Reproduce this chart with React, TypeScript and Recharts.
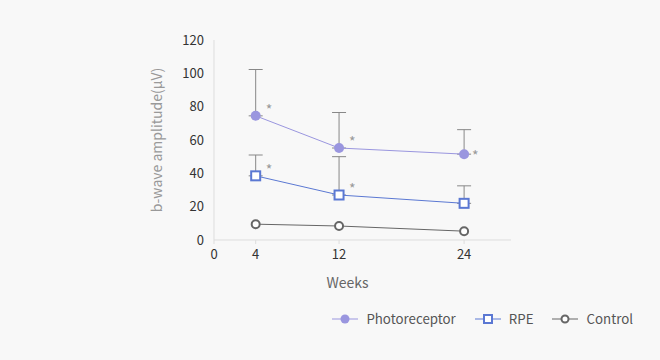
import {
  LineChart,
  Line,
  XAxis,
  YAxis,
  ErrorBar,
  LabelList,
  Legend,
} from "recharts";

const weeks = [4, 12, 24];
const photoreceptor = [74.5, 55.2, 51.5];
const photoreceptorTop = [102.3, 76.5, 66.2];
const photoreceptorSig = ["*", "*", "*"];
const rpe = [38.5, 27, 22];
const rpeTop = [51, 50, 32.5];
const rpeSig = ["*", "*", ""];
const control = [9.5, 8.4, 5.3];
const xTicks = [0, 4, 12, 24];
const yTicks = [0, 20, 40, 60, 80, 100, 120];

const data = weeks.map((w, i) => ({
  week: w,
  photo: photoreceptor[i],
  photoErr: [0, photoreceptorTop[i] - photoreceptor[i]],
  photoSig: photoreceptorSig[i],
  rpe: rpe[i],
  rpeErr: [0, rpeTop[i] - rpe[i]],
  rpeSig: rpeSig[i],
  control: control[i],
}));

const PHOTO = "#9a96df";
const RPE = "#5b78d3";
const CONTROL = "#666666";
const FONT = "'Noto Sans CJK KR', 'Noto Sans', sans-serif";

function Star(props: any) {
  const { x, y, value, index } = props;
  if (!value) return null;
  const last = index === weeks.length - 1;
  return (
    <text
      x={x + (last ? 8 : 10)}
      y={y + (last ? 7 : -1)}
      fill="#999"
      fontSize={14}
      fontFamily={FONT}
    >
      {value}
    </text>
  );
}

const legendItems = [
  { name: "Photoreceptor", color: PHOTO, kind: "dot" },
  { name: "RPE", color: RPE, kind: "square" },
  { name: "Control", color: CONTROL, kind: "ring" },
];

function LegendContent() {
  return (
    <div style={{ display: "flex", justifyContent: "flex-end", fontFamily: FONT, fontSize: 13.3, color: "#555" }}>
      {legendItems.map((it) => (
        <div key={it.name} style={{ display: "flex", alignItems: "center", marginLeft: 19 }}>
          <svg width={26} height={12} style={{ marginRight: 8 }}>
            <line x1={0} y1={6} x2={26} y2={6} stroke={it.color} strokeWidth={1} />
            {it.kind === "dot" && <circle cx={13} cy={6} r={4.5} fill={it.color} />}
            {it.kind === "square" && (
              <rect x={9} y={2} width={8} height={8} fill="#fff" stroke={it.color} strokeWidth={2} />
            )}
            {it.kind === "ring" && (
              <circle cx={13} cy={6} r={3.5} fill="#fff" stroke={it.color} strokeWidth={2} />
            )}
          </svg>
          <span>{it.name}</span>
        </div>
      ))}
    </div>
  );
}

export default function App() {
  return (
    <div style={{ position: "absolute", left: 0, top: 0, width: 660, height: 360, background: "#f8f8f8" }}>
      <LineChart
        width={660}
        height={360}
        data={data}
        margin={{ top: 40, right: 149, left: 144, bottom: 51 }}
      >
        <XAxis
          dataKey="week"
          type="number"
          domain={[0, 28.5]}
          ticks={xTicks}
          stroke="#ddd"
          tickSize={4}
          tickMargin={6}
          height={50}
          tick={{ fill: "#333", fontSize: 13, fontFamily: FONT }}
          label={{ value: "Weeks", position: "insideBottom", offset: 2, dx: -15, fill: "#666", fontSize: 14, fontFamily: FONT }}
        />
        <YAxis
          domain={[0, 120]}
          ticks={yTicks}
          width={70}
          stroke="#ddd"
          tickLine={false}
          tickSize={0}
          tickMargin={10}
          tick={{ fill: "#333", fontSize: 13, fontFamily: FONT }}
          label={{
            value: "b-wave amplitude(μV)",
            angle: -90,
            position: "insideLeft",
            offset: 13,
            fill: "#999",
            fontSize: 14,
            fontFamily: FONT,
            style: { textAnchor: "middle" },
          }}
        />
        <Legend
          verticalAlign="bottom"
          align="right"
          wrapperStyle={{ right: 27, bottom: 32 }}
          content={<LegendContent />}
        />
        <Line
          dataKey="control"
          stroke={CONTROL}
          strokeWidth={1}
          dot={{ r: 4, fill: "#fff", stroke: CONTROL, strokeWidth: 2 }}
          isAnimationActive={false}
        />
        <Line
          dataKey="rpe"
          stroke={RPE}
          strokeWidth={1}
          dot={(p: any) => (
            <rect key={p.index} x={p.cx - 4.5} y={p.cy - 4.5} width={9} height={9} fill="#fff" stroke={RPE} strokeWidth={2} />
          )}
          isAnimationActive={false}
        >
          <ErrorBar dataKey="rpeErr" width={7} stroke="#888" strokeWidth={1} direction="y" />
          <LabelList dataKey="rpeSig" content={<Star />} />
        </Line>
        <Line
          dataKey="photo"
          stroke={PHOTO}
          strokeWidth={1}
          dot={{ r: 5, fill: PHOTO, stroke: PHOTO, strokeWidth: 0 }}
          isAnimationActive={false}
        >
          <ErrorBar dataKey="photoErr" width={7} stroke="#888" strokeWidth={1} direction="y" />
          <LabelList dataKey="photoSig" content={<Star />} />
        </Line>
      </LineChart>
    </div>
  );
}
